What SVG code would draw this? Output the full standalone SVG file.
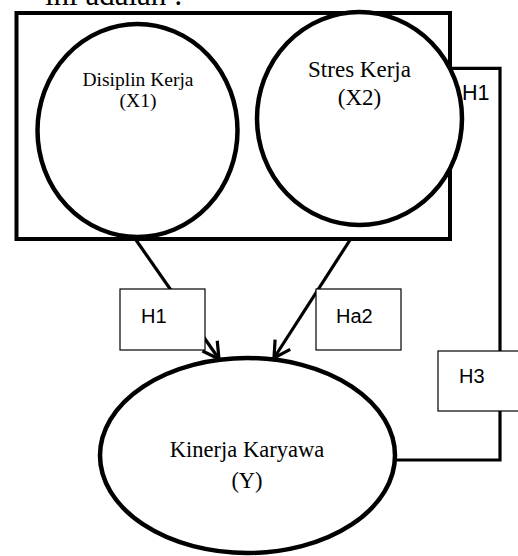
<svg xmlns="http://www.w3.org/2000/svg" width="518" height="556" viewBox="0 0 518 556">
<defs>
<style>
.serif{font-family:"Liberation Serif","Times New Roman",serif;fill:#000}
.sans{font-family:"Liberation Sans",Arial,sans-serif;fill:#000}
.node{fill:#fff;stroke:#000;stroke-width:4.5}
.box{fill:#fff;stroke:#000;stroke-width:1.2}
.conn{fill:none;stroke:#000;stroke-width:3.2}
</style>
<marker id="arr" markerUnits="userSpaceOnUse" markerWidth="30" markerHeight="30" viewBox="-20 -15 30 30" refX="0" refY="0" orient="auto">
<path d="M-16,-9 L0,0 L-16,9" fill="none" stroke="#000" stroke-width="3.2"/>
</marker>
</defs>
<rect width="518" height="556" fill="#fff"/>
<text class="serif" x="45" y="5" font-size="31">ini adalah :</text>
<g id="group-box">
<rect x="16.5" y="13" width="433.5" height="226" fill="none" stroke="#000" stroke-width="4"/>
</g>
<g id="node-x1">
<ellipse class="node" cx="137.5" cy="130.5" rx="100" ry="106.5"/>
<text class="serif" x="138" y="86" font-size="19.5" text-anchor="middle">Disiplin Kerja</text>
<text class="serif" x="138" y="107" font-size="19.5" text-anchor="middle">(X1)</text>
</g>
<g id="node-x2">
<ellipse class="node" cx="359.5" cy="118.5" rx="102.5" ry="106.5"/>
<text class="serif" x="359.5" y="77.3" font-size="23" text-anchor="middle">Stres Kerja</text>
<text class="serif" x="359.5" y="105" font-size="23" text-anchor="middle">(X2)</text>
</g>
<g id="connectors">
<line class="conn" x1="136" y1="240" x2="219" y2="359" marker-end="url(#arr)"/>
<line class="conn" x1="350" y1="240" x2="274" y2="358" marker-end="url(#arr)"/>
<polyline class="conn" points="450,68.3 500,68.3 500,460 395,460"/>
</g>
<g id="node-y">
<ellipse class="node" cx="247.5" cy="455.5" rx="147.5" ry="97.5"/>
<text class="serif" x="247" y="456.7" font-size="22.5" text-anchor="middle">Kinerja Karyawa</text>
<text class="serif" x="247" y="488" font-size="22.5" text-anchor="middle">(Y)</text>
</g>
<g id="label-h1-top">
<text class="sans" x="462" y="100" font-size="21.5">H1</text>
</g>
<g id="box-h1">
<rect class="box" x="120" y="289" width="85" height="61"/>
<text class="sans" x="141" y="322.7" font-size="20">H1</text>
</g>
<g id="box-ha2">
<rect class="box" x="316" y="289" width="85" height="61"/>
<text class="sans" x="336" y="322.7" font-size="20">Ha2</text>
</g>
<g id="box-h3">
<rect class="box" x="438" y="351" width="90" height="60"/>
<text class="sans" x="459" y="383" font-size="20">H3</text>
</g>
</svg>
